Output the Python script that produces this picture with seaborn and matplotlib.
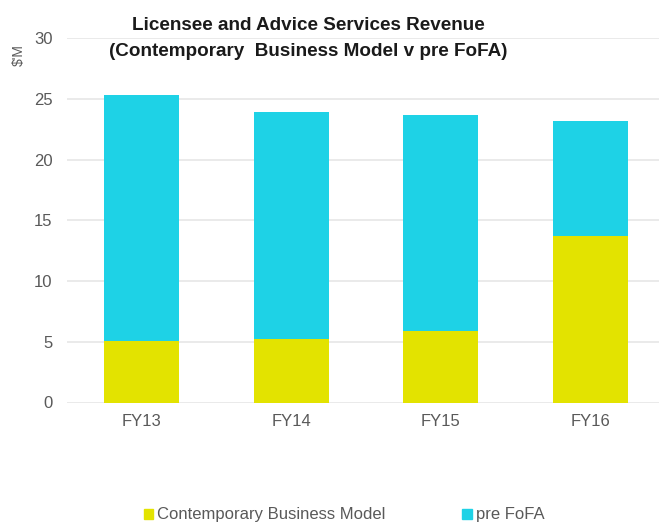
import matplotlib
matplotlib.use("Agg")
import matplotlib.pyplot as plt
import seaborn as sns
import pandas as pd
import numpy as np
from matplotlib.patches import Patch

categories = ["FY13", "FY14", "FY15", "FY16"]
contemporary = [5.1, 5.25, 5.85, 13.75]
pre_fofa = [20.2, 18.65, 17.8, 9.45]
yticks = [0, 5, 10, 15, 20, 25, 30]

title_lines = ["Licensee and Advice Services Revenue",
               "(Contemporary  Business Model v pre FoFA)"]
ylabel_text = "$'M"
legend_labels = ["Contemporary Business Model", "pre FoFA"]

c_yellow = "#E3E300"
c_cyan = "#1ED2E6"
grey = "#595959"

sns.set_theme(style="white")
plt.rcParams["font.family"] = ["Liberation Sans", "DejaVu Sans"]

df = pd.DataFrame({
    "cat": categories,
    "contemporary": contemporary,
    "pre": pre_fofa,
})
df["total"] = df["contemporary"] + df["pre"]

W, H = 659, 523
fig = plt.figure(figsize=(W / 100, H / 100), dpi=100)
ax = fig.add_axes([67 / W, (H - 402.5) / H, (W - 67) / W, (402.5 - 38.3) / H])

sns.barplot(data=df, x="cat", y="total", color=c_cyan, width=0.5,
            saturation=1, ax=ax, zorder=3, linewidth=0)
sns.barplot(data=df, x="cat", y="contemporary", color=c_yellow, width=0.5,
            saturation=1, ax=ax, zorder=3, linewidth=0)

ax.set_xlim(-0.5, -0.5 + (W - 67) / 149.5)
ax.set_ylim(0, 30)
ax.set_yticks(yticks)
ax.set_xlabel("")
ax.set_ylabel("")
ax.grid(axis="y", color="#E6E6E6", linewidth=1.2, zorder=0)
ax.set_axisbelow(True)
for s in ax.spines.values():
    s.set_visible(False)
ax.tick_params(axis="y", length=0, pad=10.5, labelsize=12, labelcolor=grey)
ax.tick_params(axis="x", length=0, pad=8.5, labelsize=12, labelcolor=grey)

fig.text(308.5 / W, 1 - 30 / H, title_lines[0], ha="center", va="baseline",
         fontsize=13.6, fontweight="bold", color="#1A1A1A")
fig.text(308.5 / W, 1 - 56.5 / H, title_lines[1], ha="center", va="baseline",
         fontsize=13.6, fontweight="bold", color="#1A1A1A")
fig.text(19 / W, 1 - 55.5 / H, ylabel_text, ha="center", va="center",
         rotation=90, fontsize=10, color=grey)

handles = [Patch(color=c_yellow), Patch(color=c_cyan)]
fig.legend(handles, legend_labels, loc="center left", bbox_to_anchor=(144 / W, 1 - 515 / H),
           ncol=2, frameon=False, fontsize=12, labelcolor=grey,
           borderaxespad=0, borderpad=0,
           handlelength=0.55, handleheight=0.55, handletextpad=0.25, columnspacing=4.6)

fig.savefig("out.png", dpi=100)
